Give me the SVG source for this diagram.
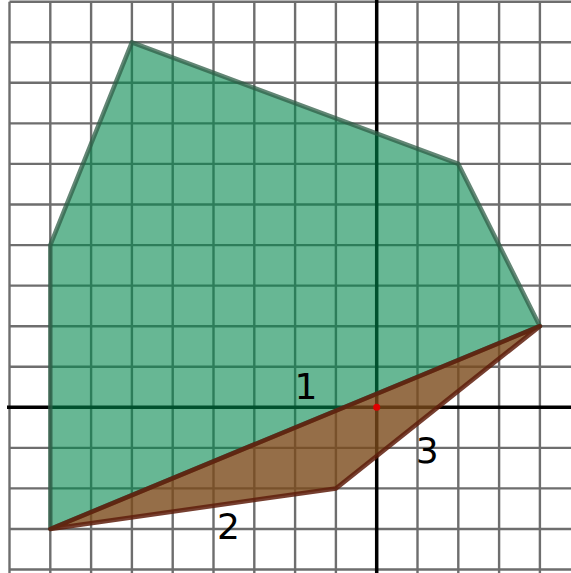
<svg xmlns="http://www.w3.org/2000/svg" width="571" height="573" viewBox="0 0 571 573">
<defs>
<filter id="soft" x="-5%" y="-5%" width="110%" height="110%"><feGaussianBlur stdDeviation="0.5"/></filter>
</defs>
<style>
.grid line{stroke:#6e6e6e;stroke-width:2.4}
.axis{stroke:#000;stroke-width:3.5}
.green{fill:rgb(2,135,77);fill-opacity:0.6;stroke:#2f5e47;stroke-opacity:0.75;stroke-width:4.5;stroke-linejoin:round}
.brown{fill:#7a4a1a;fill-opacity:0.8;stroke:#5e1d0c;stroke-opacity:0.85;stroke-width:4.5;stroke-linejoin:round}
.lbl{font-family:"DejaVu Sans",sans-serif;font-size:36px;fill:#000;text-anchor:middle}
</style>
<rect width="571" height="573" fill="#fff"/>
<g class="grid" id="grid" filter="url(#soft)">
<line x1="9.5" y1="1.7" x2="9.5" y2="573"/>
<line x1="50.3" y1="1.7" x2="50.3" y2="573"/>
<line x1="91.1" y1="1.7" x2="91.1" y2="573"/>
<line x1="131.9" y1="1.7" x2="131.9" y2="573"/>
<line x1="172.7" y1="1.7" x2="172.7" y2="573"/>
<line x1="213.5" y1="1.7" x2="213.5" y2="573"/>
<line x1="254.3" y1="1.7" x2="254.3" y2="573"/>
<line x1="295.1" y1="1.7" x2="295.1" y2="573"/>
<line x1="335.9" y1="1.7" x2="335.9" y2="573"/>
<line x1="376.7" y1="1.7" x2="376.7" y2="573"/>
<line x1="417.5" y1="1.7" x2="417.5" y2="573"/>
<line x1="458.3" y1="1.7" x2="458.3" y2="573"/>
<line x1="499.1" y1="1.7" x2="499.1" y2="573"/>
<line x1="539.9" y1="1.7" x2="539.9" y2="573"/>
<line x1="9.5" y1="1.7" x2="571" y2="1.7"/>
<line x1="9.5" y1="42.3" x2="571" y2="42.3"/>
<line x1="9.5" y1="82.8" x2="571" y2="82.8"/>
<line x1="9.5" y1="123.4" x2="571" y2="123.4"/>
<line x1="9.5" y1="163.9" x2="571" y2="163.9"/>
<line x1="9.5" y1="204.5" x2="571" y2="204.5"/>
<line x1="9.5" y1="245.1" x2="571" y2="245.1"/>
<line x1="9.5" y1="285.6" x2="571" y2="285.6"/>
<line x1="9.5" y1="326.2" x2="571" y2="326.2"/>
<line x1="9.5" y1="366.7" x2="571" y2="366.7"/>
<line x1="9.5" y1="407.3" x2="571" y2="407.3"/>
<line x1="9.5" y1="447.9" x2="571" y2="447.9"/>
<line x1="9.5" y1="488.4" x2="571" y2="488.4"/>
<line x1="9.5" y1="529.0" x2="571" y2="529.0"/>
<line x1="9.5" y1="569.5" x2="571" y2="569.5"/>
</g>
<g id="axes">
<line class="axis" x1="7" y1="407.3" x2="571" y2="407.3"/>
<line class="axis" x1="376.7" y1="0" x2="376.7" y2="573"/>
</g>
<g id="green-polygon">
<polygon class="green" points="131.9,42.3 458.3,163.9 539.9,326.2 50.3,529.0 50.3,245.1"/>
</g>
<g id="brown-triangle">
<polygon class="brown" points="539.9,326.2 50.3,529.0 335.9,488.4"/>
</g>
<g id="origin">
<circle cx="376.7" cy="407.3" r="3.5" fill="#e00000"/>
</g>
<g id="labels">
<text class="lbl" x="306" y="398.5">1</text>
<text class="lbl" x="228.5" y="539">2</text>
<text class="lbl" x="427.3" y="463">3</text>
</g>
</svg>
